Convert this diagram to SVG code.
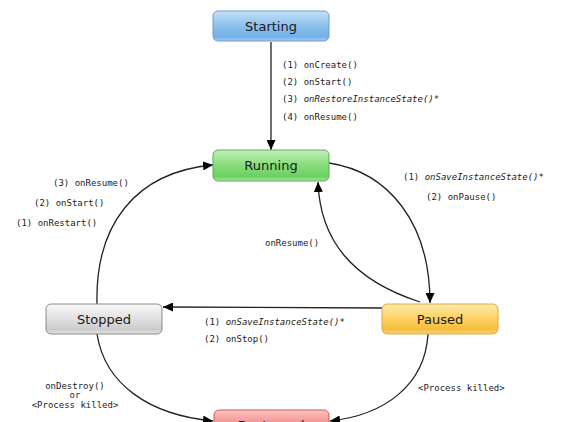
<svg xmlns="http://www.w3.org/2000/svg" width="568" height="422" viewBox="0 0 568 422">
<defs>
<style>
.node text{font-family:"DejaVu Sans","Liberation Sans",sans-serif;font-size:13px;fill:#1a1a1a;text-anchor:middle}
.lbl{font-family:"DejaVu Sans Mono","Liberation Mono",monospace;font-size:9px;fill:#222}
.it{font-style:italic}
.conn path{fill:none;stroke:#222;stroke-width:1.3;marker-end:url(#ah)}
</style>
<marker id="ah" markerUnits="userSpaceOnUse" markerWidth="11" markerHeight="9" refX="10" refY="4.5" orient="auto">
<path d="M0,0 L10,4.5 L0,9 z" fill="#000"/>
</marker>
<linearGradient id="gBlue" x1="0" y1="0" x2="0" y2="1">
<stop offset="0" stop-color="#c4e0f8"/><stop offset="0.5" stop-color="#8cc0ee"/><stop offset="0.85" stop-color="#74b0e6"/><stop offset="1" stop-color="#a6ccee"/>
</linearGradient>
<linearGradient id="gGreen" x1="0" y1="0" x2="0" y2="1">
<stop offset="0" stop-color="#c2f0b8"/><stop offset="0.5" stop-color="#86dc7a"/><stop offset="0.85" stop-color="#6cd064"/><stop offset="1" stop-color="#a4e49a"/>
</linearGradient>
<linearGradient id="gOrange" x1="0" y1="0" x2="0" y2="1">
<stop offset="0" stop-color="#ffeaa8"/><stop offset="0.5" stop-color="#fcd062"/><stop offset="0.85" stop-color="#f6bf3c"/><stop offset="1" stop-color="#fad580"/>
</linearGradient>
<linearGradient id="gGray" x1="0" y1="0" x2="0" y2="1">
<stop offset="0" stop-color="#f8f8f8"/><stop offset="0.5" stop-color="#e0e0e0"/><stop offset="0.85" stop-color="#cccccc"/><stop offset="1" stop-color="#e4e4e4"/>
</linearGradient>
<linearGradient id="gRed" x1="0" y1="0" x2="0" y2="1">
<stop offset="0" stop-color="#fcc4c4"/><stop offset="0.5" stop-color="#f48a8a"/><stop offset="1" stop-color="#ec6a6a"/>
</linearGradient>
</defs>
<rect width="568" height="422" fill="#fff"/>

<g class="conn" id="connectors">
<path d="M271,42 L271,150"/>
<path d="M329,163 C388,172 430,222 430,303"/>
<path d="M420,302 C352,280 320,240 318,182"/>
<path d="M382,308 L163,307"/>
<path d="M97,304 C95,225 135,172 213,165"/>
<path d="M97,334 C105,385 150,415 213,421"/>
<path d="M428,334 C425,385 385,415 330,421"/>
</g>

<g id="labels">
<text class="lbl" x="282" y="68">(1) onCreate()</text>
<text class="lbl" x="282" y="85">(2) onStart()</text>
<text class="lbl" x="282" y="102">(3) <tspan class="it">onRestoreInstanceState()</tspan>*</text>
<text class="lbl" x="282" y="120">(4) onResume()</text>
<text class="lbl" x="53" y="186">(3) onResume()</text>
<text class="lbl" x="34" y="206">(2) onStart()</text>
<text class="lbl" x="16" y="226">(1) onRestart()</text>
<text class="lbl" x="403" y="180">(1) <tspan class="it">onSaveInstanceState()</tspan>*</text>
<text class="lbl" x="426" y="200">(2) onPause()</text>
<text class="lbl" x="265" y="246">onResume()</text>
<text class="lbl" x="204" y="325">(1) <tspan class="it">onSaveInstanceState()</tspan>*</text>
<text class="lbl" x="204" y="342">(2) onStop()</text>
<text class="lbl" x="75" y="389" text-anchor="middle">onDestroy()</text>
<text class="lbl" x="75" y="398" text-anchor="middle">or</text>
<text class="lbl" x="75" y="408" text-anchor="middle">&lt;Process killed&gt;</text>
<text class="lbl" x="418" y="391">&lt;Process killed&gt;</text>
</g>

<g class="node" id="starting">
<rect x="213" y="11" width="116" height="30" rx="5" fill="url(#gBlue)" stroke="#6f9cc8"/>
<text x="271" y="30.5">Starting</text>
</g>
<g class="node" id="running">
<rect x="213" y="150" width="116" height="31" rx="5" fill="url(#gGreen)" stroke="#62a85c"/>
<text x="271" y="170">Running</text>
</g>
<g class="node" id="paused">
<rect x="382" y="304" width="116" height="30" rx="5" fill="url(#gOrange)" stroke="#d8aa4c"/>
<text x="440" y="323.5">Paused</text>
</g>
<g class="node" id="stopped">
<rect x="46" y="304" width="116" height="30" rx="5" fill="url(#gGray)" stroke="#8a8a8a"/>
<text x="104" y="323.5">Stopped</text>
</g>
<g class="node" id="destroyed">
<rect x="214" y="410" width="115" height="30" rx="5" fill="url(#gRed)" stroke="#c85a5a"/>
<text x="271" y="430">Destroyed</text>
</g>
</svg>
